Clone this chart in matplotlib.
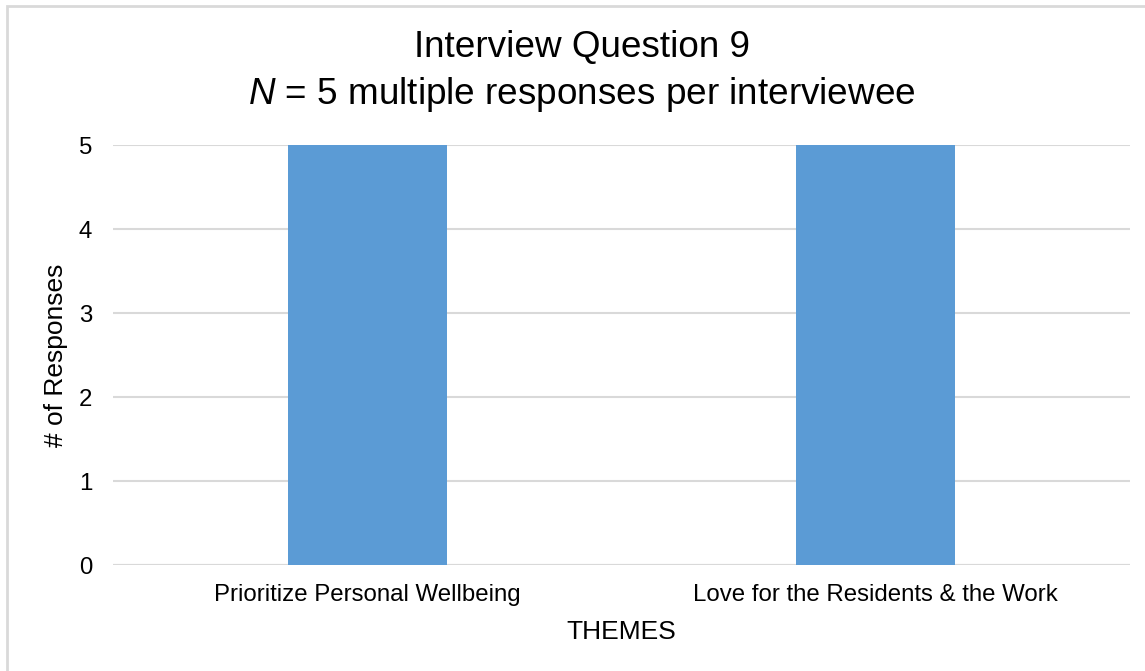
import matplotlib
matplotlib.use("Agg")
import matplotlib.pyplot as plt
from matplotlib.patches import Rectangle

plt.rcParams["font.family"] = ["Liberation Sans", "DejaVu Sans"]
plt.rcParams["mathtext.fontset"] = "custom"
plt.rcParams["mathtext.rm"] = "Liberation Sans"
plt.rcParams["mathtext.it"] = "Liberation Sans:italic"

# Data
themes = ["Prioritize Personal Wellbeing", "Love for the Residents & the Work"]
responses = [5, 5]
y_ticks = [0, 1, 2, 3, 4, 5]

title_line1 = "Interview Question 9"
title_line2 = r"$\mathit{N}$ = 5 multiple responses per interviewee"

W, H = 1145, 671
fig = plt.figure(figsize=(W / 100, H / 100), dpi=100)
ax = fig.add_axes([113 / W, 1 - 565 / H, (1130 - 113) / W, (565 - 145) / H])

x = list(range(len(themes)))
ax.bar(x, responses, width=0.313, color="#5b9bd5", zorder=3)

ax.set_xlim(-0.5, len(themes) - 0.5)
ax.set_ylim(0, 5)
ax.set_yticks(y_ticks)
ax.set_xticks(x)
ax.set_xticklabels(themes)
ax.tick_params(axis="both", length=0, labelsize=17.3, colors="black")
ax.tick_params(axis="y", pad=15)
ax.tick_params(axis="x", pad=14)

ax.yaxis.grid(True, color="#d9d9d9", linewidth=1.5, zorder=0)
for s in ax.spines.values():
    s.set_visible(False)
ax.axhline(0, color="#d9d9d9", linewidth=1.5, zorder=1)

ax.set_ylabel("# of Responses", fontsize=19, labelpad=8)
ax.set_xlabel("THEMES", fontsize=19, labelpad=10)

fig.text(582 / W, 1 - 47 / H, title_line1, ha="center", va="center", fontsize=26.6)
fig.text(582 / W, 1 - 94 / H, title_line2, ha="center", va="center", fontsize=26.6)

# Chart-area border
fig.patches.append(Rectangle((7 / W, -0.2), 1.5, 1 - 6 / H + 0.2,
                             transform=fig.transFigure, fill=False,
                             edgecolor="#d9d9d9", linewidth=2))

fig.savefig("out.png", dpi=100)
